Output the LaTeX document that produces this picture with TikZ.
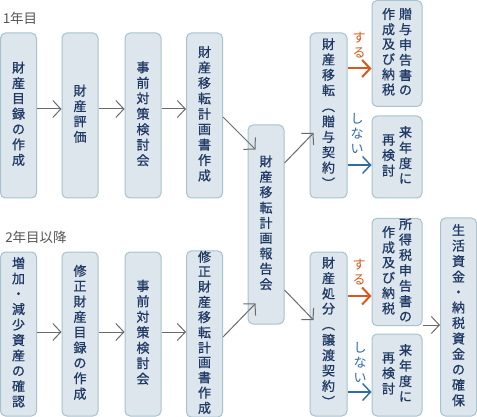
\documentclass[tikz,border=0pt]{standalone}
\usepackage{fontspec}
\usepackage{graphicx}
\newfontfamily\jp{Noto Sans CJK JP}
\newfontfamily\jpm{Noto Sans CJK JP}[FakeBold=0.8]
\usetikzlibrary{arrows.meta}
\definecolor{boxfill}{HTML}{DCE6EC}
\definecolor{boxline}{HTML}{A8C2CE}
\definecolor{boxtext}{HTML}{1F3864}
\definecolor{arrgray}{HTML}{6A6A6A}
\definecolor{suruc}{HTML}{D9581C}
\definecolor{shinaic}{HTML}{2E6CA8}
\definecolor{headc}{HTML}{555555}
\newcommand{\vstack}[1]{\begin{tabular}[c]{@{}c@{}}#1\end{tabular}}
\newcommand{\vpl}{\rotatebox[origin=c]{-90}{（}}
\newcommand{\vpr}{\rotatebox[origin=c]{-90}{）}}
\begin{document}
\begin{tikzpicture}[x=1pt,y=-1pt,
  box/.style={draw=boxline, fill=boxfill, line width=1pt, rounded corners=5pt, inner sep=0pt, text=boxtext, font=\jpm\fontsize{13}{15.2}\selectfont},
  narrow/.style={box, minimum width=36pt},
  wide/.style={box, minimum width=50pt},
  tipb/.style={-{Straight Barb[length=8pt,width=17pt]}},
  arr/.style={draw=arrgray, line width=1pt, tipb},
  suruarr/.style={draw=suruc, line width=2pt, -{Straight Barb[length=8pt,width=17pt]}},
  shinaiarr/.style={draw=shinaic, line width=1.4pt, -{Straight Barb[length=8pt,width=17pt]}},
  surutext/.style={inner sep=0pt, text=suruc, font=\jp\fontsize{13}{15}\selectfont},
  shinaitext/.style={inner sep=0pt, text=shinaic, font=\jp\fontsize{13}{14.5}\selectfont},
  head/.style={inner sep=0pt, text=headc, font=\jp\fontsize{13.5}{15}\selectfont}
]
\useasboundingbox (0,0) rectangle (477,417);

% headings
\node[head] (y1) at (20,18) {1年目};
\node[head] (y2) at (36,237) {2年目以降};

% row 1
\node[narrow, minimum height=165pt] (b1) at (18.5,115.5) {\vstack{財\\産\\目\\録\\の\\作\\成}};
\node[narrow, minimum height=165pt] (b2) at (80,115.5) {\vstack{財\\産\\評\\価}};
\node[narrow, minimum height=165pt] (b3) at (143,115.5) {\vstack{事\\前\\対\\策\\検\\討\\会}};
\node[narrow, minimum height=165pt] (b4) at (204.5,115.5) {\vstack{財\\産\\移\\転\\計\\画\\書\\作\\成}};

% row 2
\node[narrow, minimum height=164pt] (c1) at (18.5,334) {\vstack{増\\加\\・\\減\\少\\資\\産\\の\\確\\認}};
\node[narrow, minimum height=164pt] (c2) at (80,334) {\vstack{修\\正\\財\\産\\目\\録\\の\\作\\成}};
\node[narrow, minimum height=164pt] (c3) at (143,334) {\vstack{事\\前\\対\\策\\検\\討\\会}};
\node[narrow, minimum height=164pt, font=\jpm\fontsize{13}{14.5}\selectfont] (c4) at (204.5,334) {\vstack{修\\正\\財\\産\\移\\転\\計\\画\\書\\作\\成}};

% middle
\node[narrow, minimum height=199pt, font=\jpm\fontsize{13}{15}\selectfont] (mid) at (266,224.5) {\vstack{財\\産\\移\\転\\計\\画\\報\\告\\会}};

% decision boxes
\node[box, minimum width=37pt, minimum height=165pt, font=\jpm\fontsize{13}{14.8}\selectfont] (p1) at (328.5,115.5) {\vstack{財\\産\\移\\転\\\vpl\\贈\\与\\契\\約\\\vpr}};
\node[box, minimum width=37pt, minimum height=164pt, font=\jpm\fontsize{13}{14.8}\selectfont] (p2) at (328.5,334) {\vstack{財\\産\\処\\分\\\vpl\\譲\\渡\\契\\約\\\vpr}};

% results
\node[wide, minimum height=106pt, font=\jpm\fontsize{13}{14.6}\selectfont] (g1) at (397,53.5) {\vstack{作\\成\\及\\び\\納\\税}\hspace{4pt}\vstack{贈\\与\\申\\告\\書\\の}};
\node[wide, minimum height=82pt] (r1) at (397,157) {\vstack{再\\検\\討}\hspace{4pt}\vstack{来\\年\\度\\に}};
\node[wide, minimum height=106pt, font=\jpm\fontsize{13}{15}\selectfont] (s1) at (397,272) {\vstack{作\\成\\及\\び\\納\\税}\hspace{4pt}\vstack{所\\得\\税\\申\\告\\書\\の}};
\node[wide, minimum height=82pt] (r2) at (397,375) {\vstack{再\\検\\討}\hspace{4pt}\vstack{来\\年\\度\\に}};
\node[narrow, minimum height=198pt, font=\jpm\fontsize{13}{15.3}\selectfont] (l1) at (458.5,317) {\vstack{生\\活\\資\\金\\・\\納\\税\\資\\金\\の\\確\\保}};

% labels
\node[surutext] (su1) at (359,47) {\vstack{す\\る}};
\node[shinaitext] (sn1) at (357,135.5) {\vstack{し\\な\\い}};
\node[surutext] (su2) at (359,274) {\vstack{す\\る}};
\node[shinaitext] (sn2) at (360,364.5) {\vstack{し\\な\\い}};

% row arrows
\draw[arr] ([yshift=6.5pt]b1.east) -- ([yshift=6.5pt]b2.west);
\draw[arr] ([yshift=6.5pt]b2.east) -- ([yshift=6.5pt]b3.west);
\draw[arr] ([yshift=6.5pt]b3.east) -- ([yshift=6.5pt]b4.west);
\draw[arr] ([yshift=2pt]c1.east) -- ([yshift=2pt]c2.west);
\draw[arr] ([yshift=2pt]c2.east) -- ([yshift=2pt]c3.west);
\draw[arr] ([yshift=2pt]c3.east) -- ([yshift=2pt]c4.west);

% diagonals
\draw[arr] ([yshift=-1.5pt]b4.east) -- ([xshift=8pt,yshift=-25pt]mid.north west);
\draw[arr] ([yshift=-3pt]c4.east) -- ([xshift=8pt,yshift=21pt]mid.south west);
\draw[arr] ([yshift=61.5pt]mid.east) -- ([xshift=4pt,yshift=-17.5pt]p1.west);
\draw[arr] ([yshift=-65.5pt]mid.east) -- ([xshift=4pt,yshift=14pt]p2.west);

% decision arrows
\coordinate (t1) at ([yshift=-15pt]g1.west);
\coordinate (t2) at ([yshift=-8pt]r1.west);
\coordinate (t3) at ([yshift=-24pt]s1.west);
\coordinate (t4) at ([yshift=-17pt]r2.west);
\draw[suruarr] (p1.east |- t1) -- (t1);
\draw[shinaiarr] (p1.east |- t2) -- (t2);
\draw[suruarr] (p2.east |- t3) -- (t3);
\draw[shinaiarr] (p2.east |- t4) -- (t4);

\coordinate (t5) at ([yshift=-8pt]l1.west);
\draw[arr] (s1.east |- t5) -- (t5);
\end{tikzpicture}
\end{document}
